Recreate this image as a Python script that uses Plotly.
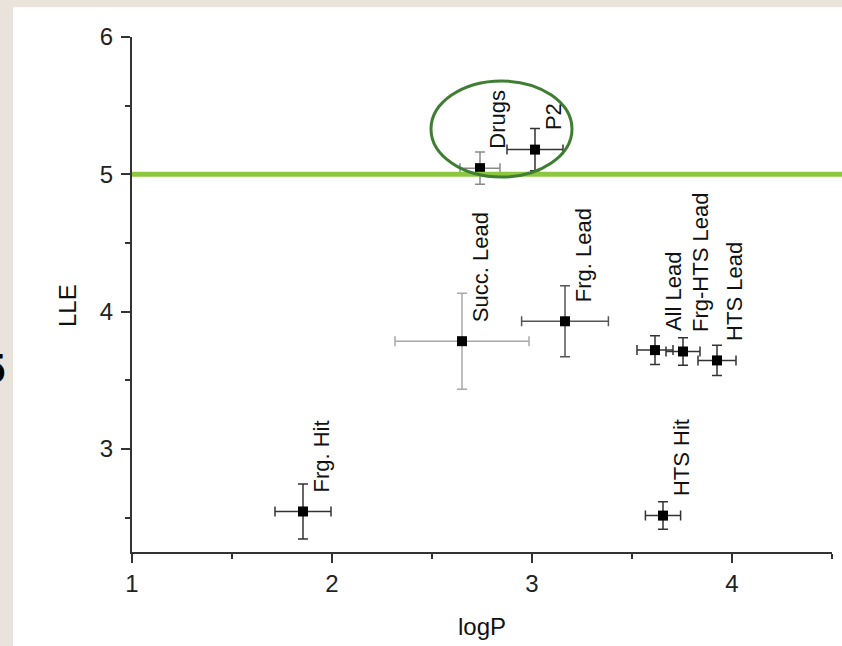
import plotly.graph_objects as go

# ---- data ----
labels = ["Frg. Hit", "HTS Hit", "Succ. Lead", "Frg. Lead", "All Lead",
          "Frg-HTS Lead", "HTS Lead", "Drugs", "P2"]
logp = [1.855, 3.655, 2.65, 3.165, 3.615, 3.755, 3.925, 2.74, 3.015]
lle = [2.545, 2.515, 3.785, 3.93, 3.72, 3.71, 3.645, 5.045, 5.18]
logp_err = [0.14, 0.088, 0.335, 0.217, 0.09, 0.085, 0.095, 0.10, 0.14]
lle_err = [0.20, 0.10, 0.35, 0.258, 0.105, 0.10, 0.11, 0.117, 0.153]
threshold = 5.0
x_ticks = [1, 2, 3, 4]
y_ticks = [3, 4, 5, 6]

FONT = "Liberation Sans, Arial, sans-serif"
err_color = {"Succ. Lead": "#a8a8a8", "Drugs": "#8a8a8a", "Frg. Lead": "#555555"}

fig = go.Figure()
for lab, x, y, ex, ey in zip(labels, logp, lle, logp_err, lle_err):
    c = err_color.get(lab, "#333333")
    fig.add_trace(go.Scatter(
        x=[x], y=[y], mode="markers", name=lab, showlegend=False,
        marker=dict(symbol="square", size=10, color="black"),
        error_x=dict(type="data", array=[ex], color=c, thickness=1.5, width=5),
        error_y=dict(type="data", array=[ey], color=c, thickness=1.5, width=5),
    ))
    fig.add_annotation(x=x, y=y, text=lab, showarrow=False, textangle=-90,
                       xanchor="center", yanchor="bottom", xshift=18, yshift=17,
                       font=dict(family=FONT, size=22, color="#111111"))

shapes = [
    # white page area over beige background
    dict(type="rect", xref="paper", yref="paper", x0=-0.17, x1=1.2, y0=-0.4, y1=1.058,
         fillcolor="white", line=dict(width=0), layer="below"),
    # threshold line
    dict(type="line", xref="paper", yref="y", x0=0, x1=1.02, y0=threshold, y1=threshold,
         line=dict(color="#8dc63f", width=5), layer="above"),
    # highlight ellipse
    dict(type="circle", xref="x", yref="y", x0=2.495, x1=3.2, y0=4.98, y1=5.68,
         line=dict(color="#3f7d32", width=3), layer="above"),
]

fig.add_annotation(xref="paper", yref="paper", x=(67 - 132) / 700, y=1 - (306 - 37) / 515,
                   text="LLE", showarrow=False, textangle=-90, xanchor="center", yanchor="middle",
                   font=dict(family=FONT, size=24, color="#111111"))
fig.add_annotation(xref="paper", yref="paper", x=(7 - 132) / 700, y=1 - (368 - 37) / 515,
                   text="<b>5</b>", showarrow=False, xanchor="right", yanchor="middle",
                   font=dict(family=FONT, size=42, color="#000000"))

axis_common = dict(showgrid=False, zeroline=False, showline=True, linecolor="#333333", linewidth=2,
                   ticks="outside", ticklen=9, tickwidth=2, tickcolor="#333333",
                   tickfont=dict(family=FONT, size=24, color="#222222"))

fig.update_layout(
    width=842, height=646,
    margin=dict(l=132, r=10, t=37, b=94),
    paper_bgcolor="#e9e3db", plot_bgcolor="white",
    shapes=shapes,
    xaxis=dict(range=[1, 4.5], tickvals=x_ticks, **axis_common,
               minor=dict(dtick=0.5, tick0=1, ticks="outside", ticklen=5, tickwidth=2, tickcolor="#333333"),
               title=dict(text="logP", font=dict(family=FONT, size=24, color="#111111"), standoff=22)),
    yaxis=dict(range=[2.25, 6], tickvals=y_ticks, **axis_common, ticklabelstandoff=3,
               minor=dict(dtick=0.5, tick0=2.5, ticks="outside", ticklen=5, tickwidth=2, tickcolor="#333333")),
)

fig.write_html("out.html", config={"displayModeBar": False},
               post_script="document.body.style.margin='0px';document.body.style.overflow='hidden';"
                           "document.body.style.background='#e9e3db';")
